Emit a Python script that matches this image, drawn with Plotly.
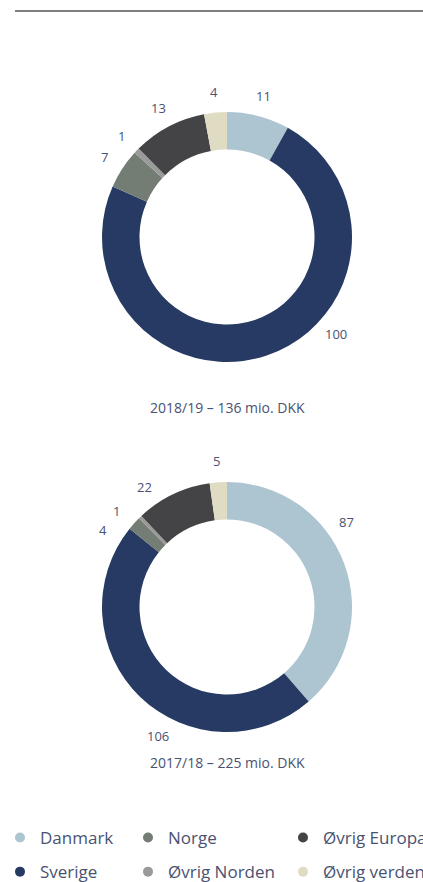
import math
import plotly.graph_objects as go

labels = ["Danmark", "Sverige", "Norge", "Øvrig Norden", "Øvrig Europa", "Øvrig verden"]
values_1819 = [11, 100, 7, 1, 13, 4]
values_1718 = [87, 106, 4, 1, 22, 5]
colors = ["#adc4d1", "#263a63", "#737d74", "#9a9a9a", "#444446", "#e0dcc4"]
caption_1819 = "2018/19 – 136 mio. DKK"
caption_1718 = "2017/18 – 225 mio. DKK"
legend_columns = [["Danmark", "Sverige"], ["Norge", "Øvrig Norden"], ["Øvrig Europa", "Øvrig verden"]]

FONT = "Open Sans"
TXT = "#4a5272"
W, H = 423, 882
R = 125
LABEL_R = 146
CX = 227

label_nudge = [
    {"Sverige": -30},
    {"Danmark": -15, "Sverige": -16, "Norge": -10, "Øvrig Norden": -5, "Øvrig Europa": -9},
]

fig = go.Figure()


def px_x(v):
    return v / W


def px_y(v):
    return 1 - v / H


for k, (vals, cy) in enumerate([(values_1819, 237), (values_1718, 607)]):
    fig.add_trace(go.Pie(
        labels=labels, values=vals, sort=False, direction="clockwise", rotation=0,
        hole=0.70, marker=dict(colors=colors, line=dict(width=0)),
        textinfo="none", showlegend=False, hoverinfo="label+value",
        domain=dict(x=[px_x(CX - R), px_x(CX + R)], y=[px_y(cy + R), px_y(cy - R)]),
    ))
    total = sum(vals)
    cum = 0
    for lab, v in zip(labels, vals):
        mid = (cum + v / 2) / total * 360 + label_nudge[k].get(lab, 0)
        cum += v
        a = math.radians(mid)
        x = CX + LABEL_R * math.sin(a)
        y = cy - LABEL_R * math.cos(a)
        fig.add_annotation(x=px_x(x), y=px_y(y), xref="paper", yref="paper",
                           text=str(v), showarrow=False,
                           xanchor="center", yanchor="middle",
                           font=dict(family=FONT, size=13, color=TXT))

color_of = dict(zip(labels, colors))
legend_x = [0.0, 128 / W, 283 / W]
for ci, col in enumerate(legend_columns):
    lname = "legend" if ci == 0 else f"legend{ci+1}"
    for name in col:
        fig.add_trace(go.Scatter(
            x=[None], y=[None], mode="markers", name=name,
            marker=dict(color=color_of[name], size=10),
            legend=lname, legendgroup=name, showlegend=True,
        ))

legend_common = dict(
    orientation="v", yanchor="top", y=px_y(820), font=dict(family=FONT, size=17, color=TXT),
    tracegroupgap=9, bgcolor="rgba(0,0,0,0)", itemwidth=30,
)
fig.update_layout(
    legend=dict(x=legend_x[0], **legend_common),
    legend2=dict(x=legend_x[1], **legend_common),
    legend3=dict(x=legend_x[2], **legend_common),
)

fig.add_annotation(x=px_x(CX), y=px_y(407), xref="paper", yref="paper", text=caption_1819,
                   showarrow=False, font=dict(family=FONT, size=14, color=TXT))
fig.add_annotation(x=px_x(CX), y=px_y(774), xref="paper", yref="paper", text=caption_1718,
                   showarrow=False, font=dict(family=FONT, size=14, color=TXT))

fig.add_shape(type="line", xref="paper", yref="paper", x0=px_x(15), x1=1.0,
              y0=px_y(11), y1=px_y(11), line=dict(color="#555555", width=1.5))

fig.update_layout(
    width=W, height=H, margin=dict(l=0, r=0, t=0, b=0, autoexpand=False),
    paper_bgcolor="white", plot_bgcolor="white",
    xaxis=dict(visible=False), yaxis=dict(visible=False),
)

fig.write_html(
    "out.html", config={"displayModeBar": False},
    post_script="document.body.style.margin='0';document.body.style.overflow='hidden';"
                "document.documentElement.style.overflow='hidden';",
)
